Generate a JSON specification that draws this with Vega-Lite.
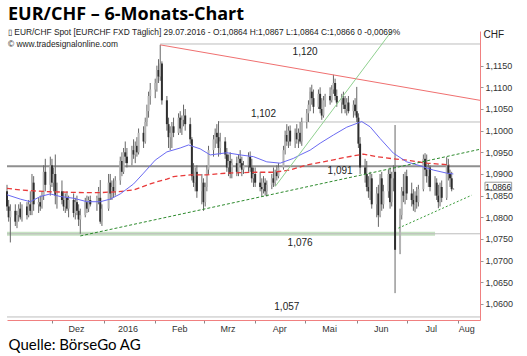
{
  "$schema": "https://vega.github.io/schema/vega-lite/v6.json",
  "width": 473,
  "height": 289,
  "autosize": {"type": "none"},
  "padding": {"left": 7, "top": 31, "right": 47, "bottom": 36},
  "background": "white",
  "config": {"view": {"stroke": null}},
  "title": {
    "text": "EUR/CHF – 6-Monats-Chart",
    "subtitle": ["▯ EUR/CHF Spot [EURCHF FXD  Täglich] 29.07.2016 - O:1,0864 H:1,0867 L:1,0864 C:1,0866 0 -0,0069%", "© www.tradesignalonline.com"],
    "anchor": "start",
    "frame": "group",
    "offset": -19,
    "font": "Open Sans",
    "fontSize": 18,
    "fontWeight": "bold",
    "color": "#000000",
    "subtitleFont": "Liberation Sans",
    "subtitleFontSize": 8.4,
    "subtitleColor": "#222222",
    "subtitleLineHeight": 12,
    "subtitlePadding": 4,
    "dx": 1
  },
  "datasets": {
    "levels": [
      {"d": "2016-02-04", "d2": "2016-08-14", "v": 1.1200},
      {"d": "2016-03-10", "d2": "2016-08-14", "v": 1.1020},
      {"d": "2015-11-04", "d2": "2016-08-14", "v": 1.0762},
      {"d": "2015-11-04", "d2": "2016-08-14", "v": 1.0570}
    ],
    "band": [{"d": "2015-11-04", "d2": "2016-07-18", "v": 1.0762}],
    "main": [{"d": "2015-11-04", "d2": "2016-08-14", "v": 1.0918}],
    "labels": [
      {"d": "2016-05-01", "v": 1.1182, "t": "1,120"},
      {"d": "2016-04-06", "v": 1.1039, "t": "1,102"},
      {"d": "2016-05-22", "v": 1.0907, "t": "1,091"},
      {"d": "2016-04-28", "v": 1.0741, "t": "1,076"},
      {"d": "2016-04-20", "v": 1.0594, "t": "1,057"}
    ],
    "trends": [
      {"g": "r", "d": "2016-02-04", "v": 1.1198},
      {"g": "r", "d": "2016-08-14", "v": 1.1070},
      {"g": "dg", "d": "2015-12-18", "v": 1.0757},
      {"g": "dg", "d": "2016-08-14", "v": 1.0957},
      {"g": "lg", "d": "2016-04-13", "v": 1.0871},
      {"g": "lg", "d": "2016-06-22", "v": 1.1230},
      {"g": "sg", "d": "2016-06-26", "v": 1.0775},
      {"g": "sg", "d": "2016-08-09", "v": 1.0851}
    ],
    "ma50": [
      {"d": "2015-11-04", "v": 1.0852}, {"d": "2015-11-12", "v": 1.0842}, {"d": "2015-11-18", "v": 1.0836},
      {"d": "2015-11-24", "v": 1.0848}, {"d": "2015-11-30", "v": 1.0854}, {"d": "2015-12-06", "v": 1.0848},
      {"d": "2015-12-14", "v": 1.0844}, {"d": "2015-12-22", "v": 1.0836}, {"d": "2015-12-30", "v": 1.0836},
      {"d": "2016-01-05", "v": 1.0842}, {"d": "2016-01-11", "v": 1.0854}, {"d": "2016-01-19", "v": 1.0877},
      {"d": "2016-01-25", "v": 1.0902}, {"d": "2016-02-01", "v": 1.0932}, {"d": "2016-02-08", "v": 1.0951},
      {"d": "2016-02-16", "v": 1.0960}, {"d": "2016-02-21", "v": 1.0967}, {"d": "2016-02-28", "v": 1.0958},
      {"d": "2016-03-05", "v": 1.0944}, {"d": "2016-03-15", "v": 1.0949}, {"d": "2016-03-23", "v": 1.0944},
      {"d": "2016-03-31", "v": 1.0940}, {"d": "2016-04-08", "v": 1.0928}, {"d": "2016-04-16", "v": 1.0925},
      {"d": "2016-04-24", "v": 1.0936}, {"d": "2016-04-28", "v": 1.0944}, {"d": "2016-05-04", "v": 1.0955},
      {"d": "2016-05-10", "v": 1.0971}, {"d": "2016-05-18", "v": 1.0990}, {"d": "2016-05-26", "v": 1.1008},
      {"d": "2016-06-04", "v": 1.1021}, {"d": "2016-06-09", "v": 1.1009}, {"d": "2016-06-15", "v": 1.0982},
      {"d": "2016-06-23", "v": 1.0948}, {"d": "2016-07-01", "v": 1.0928}, {"d": "2016-07-09", "v": 1.0919},
      {"d": "2016-07-17", "v": 1.0909}, {"d": "2016-07-25", "v": 1.0902}, {"d": "2016-07-29", "v": 1.0900}
    ],
    "ma200": [
      {"d": "2015-11-04", "v": 1.0867}, {"d": "2015-11-12", "v": 1.0863}, {"d": "2015-11-20", "v": 1.0861},
      {"d": "2015-11-30", "v": 1.0859}, {"d": "2015-12-10", "v": 1.0858}, {"d": "2015-12-20", "v": 1.0857},
      {"d": "2015-12-30", "v": 1.0857}, {"d": "2016-01-09", "v": 1.0859}, {"d": "2016-01-19", "v": 1.0863},
      {"d": "2016-01-29", "v": 1.0877}, {"d": "2016-02-02", "v": 1.0882}, {"d": "2016-02-08", "v": 1.0888},
      {"d": "2016-02-12", "v": 1.0894}, {"d": "2016-02-22", "v": 1.0898}, {"d": "2016-03-03", "v": 1.0898},
      {"d": "2016-03-15", "v": 1.0902}, {"d": "2016-03-23", "v": 1.0903}, {"d": "2016-04-02", "v": 1.0904},
      {"d": "2016-04-12", "v": 1.0904}, {"d": "2016-04-22", "v": 1.0909}, {"d": "2016-05-02", "v": 1.0921},
      {"d": "2016-05-12", "v": 1.0928}, {"d": "2016-05-22", "v": 1.0936}, {"d": "2016-06-05", "v": 1.0946},
      {"d": "2016-06-13", "v": 1.0940}, {"d": "2016-06-23", "v": 1.0935}, {"d": "2016-07-03", "v": 1.0931},
      {"d": "2016-07-13", "v": 1.0925}, {"d": "2016-07-27", "v": 1.0921}
    ],
    "last": [{"d": "2016-08-17", "d2": "2016-09-02", "v": 1.0862, "v2": 1.0881, "m": "2016-08-25", "p": 1.0871, "t": "1,0866"}],
    "candles": [
      {"d": "2015-11-04", "o": 1.0860, "h": 1.0875, "l": 1.0815, "c": 1.0825},
      {"d": "2015-11-05", "o": 1.0825, "h": 1.0840, "l": 1.0790, "c": 1.0800},
      {"d": "2015-11-06", "o": 1.0800, "h": 1.0830, "l": 1.0742, "c": 1.0815},
      {"d": "2015-11-09", "o": 1.0815, "h": 1.0830, "l": 1.0780, "c": 1.0790},
      {"d": "2015-11-10", "o": 1.0790, "h": 1.0815, "l": 1.0775, "c": 1.0805},
      {"d": "2015-11-11", "o": 1.0805, "h": 1.0830, "l": 1.0790, "c": 1.0820},
      {"d": "2015-11-12", "o": 1.0820, "h": 1.0835, "l": 1.0795, "c": 1.0800},
      {"d": "2015-11-13", "o": 1.0800, "h": 1.0830, "l": 1.0790, "c": 1.0825},
      {"d": "2015-11-16", "o": 1.0825, "h": 1.0835, "l": 1.0795, "c": 1.0805},
      {"d": "2015-11-17", "o": 1.0805, "h": 1.0840, "l": 1.0800, "c": 1.0830},
      {"d": "2015-11-18", "o": 1.0830, "h": 1.0860, "l": 1.0805, "c": 1.0815},
      {"d": "2015-11-19", "o": 1.0815, "h": 1.0900, "l": 1.0805, "c": 1.0880},
      {"d": "2015-11-20", "o": 1.0880, "h": 1.0895, "l": 1.0815, "c": 1.0830},
      {"d": "2015-11-23", "o": 1.0830, "h": 1.0845, "l": 1.0810, "c": 1.0835},
      {"d": "2015-11-24", "o": 1.0835, "h": 1.0850, "l": 1.0815, "c": 1.0825},
      {"d": "2015-11-25", "o": 1.0825, "h": 1.0860, "l": 1.0820, "c": 1.0850},
      {"d": "2015-11-26", "o": 1.0850, "h": 1.0920, "l": 1.0840, "c": 1.0905},
      {"d": "2015-11-27", "o": 1.0905, "h": 1.0935, "l": 1.0860, "c": 1.0875},
      {"d": "2015-11-30", "o": 1.0875, "h": 1.0940, "l": 1.0850, "c": 1.0920},
      {"d": "2015-12-01", "o": 1.0920, "h": 1.0935, "l": 1.0870, "c": 1.0880},
      {"d": "2015-12-02", "o": 1.0880, "h": 1.0915, "l": 1.0860, "c": 1.0900},
      {"d": "2015-12-03", "o": 1.0900, "h": 1.0945, "l": 1.0830, "c": 1.0850},
      {"d": "2015-12-04", "o": 1.0850, "h": 1.0880, "l": 1.0820, "c": 1.0860},
      {"d": "2015-12-07", "o": 1.0860, "h": 1.0885, "l": 1.0830, "c": 1.0840},
      {"d": "2015-12-08", "o": 1.0840, "h": 1.0860, "l": 1.0815, "c": 1.0825},
      {"d": "2015-12-09", "o": 1.0825, "h": 1.0855, "l": 1.0810, "c": 1.0845},
      {"d": "2015-12-10", "o": 1.0845, "h": 1.0860, "l": 1.0815, "c": 1.0820},
      {"d": "2015-12-11", "o": 1.0820, "h": 1.0850, "l": 1.0800, "c": 1.0840},
      {"d": "2015-12-14", "o": 1.0840, "h": 1.0855, "l": 1.0800, "c": 1.0810},
      {"d": "2015-12-15", "o": 1.0810, "h": 1.0845, "l": 1.0795, "c": 1.0835},
      {"d": "2015-12-16", "o": 1.0835, "h": 1.0850, "l": 1.0805, "c": 1.0815},
      {"d": "2015-12-17", "o": 1.0815, "h": 1.0830, "l": 1.0780, "c": 1.0795},
      {"d": "2015-12-18", "o": 1.0795, "h": 1.0820, "l": 1.0762, "c": 1.0805},
      {"d": "2015-12-21", "o": 1.0805, "h": 1.0845, "l": 1.0800, "c": 1.0835},
      {"d": "2015-12-22", "o": 1.0835, "h": 1.0850, "l": 1.0810, "c": 1.0820},
      {"d": "2015-12-23", "o": 1.0820, "h": 1.0848, "l": 1.0812, "c": 1.0840},
      {"d": "2015-12-24", "o": 1.0840, "h": 1.0850, "l": 1.0825, "c": 1.0830},
      {"d": "2015-12-28", "o": 1.0830, "h": 1.0850, "l": 1.0815, "c": 1.0845},
      {"d": "2015-12-29", "o": 1.0845, "h": 1.0870, "l": 1.0830, "c": 1.0860},
      {"d": "2015-12-30", "o": 1.0845, "h": 1.0886, "l": 1.0785, "c": 1.0790},
      {"d": "2015-12-31", "o": 1.0790, "h": 1.0830, "l": 1.0780, "c": 1.0820},
      {"d": "2016-01-04", "o": 1.0820, "h": 1.0900, "l": 1.0815, "c": 1.0880},
      {"d": "2016-01-05", "o": 1.0880, "h": 1.0900, "l": 1.0840, "c": 1.0855},
      {"d": "2016-01-06", "o": 1.0855, "h": 1.0885, "l": 1.0840, "c": 1.0870},
      {"d": "2016-01-07", "o": 1.0870, "h": 1.0890, "l": 1.0845, "c": 1.0860},
      {"d": "2016-01-08", "o": 1.0860, "h": 1.0895, "l": 1.0850, "c": 1.0885},
      {"d": "2016-01-11", "o": 1.0885, "h": 1.0940, "l": 1.0875, "c": 1.0930},
      {"d": "2016-01-12", "o": 1.0930, "h": 1.0950, "l": 1.0895, "c": 1.0905},
      {"d": "2016-01-13", "o": 1.0905, "h": 1.0960, "l": 1.0900, "c": 1.0950},
      {"d": "2016-01-14", "o": 1.0950, "h": 1.0975, "l": 1.0925, "c": 1.0940},
      {"d": "2016-01-15", "o": 1.0940, "h": 1.0960, "l": 1.0915, "c": 1.0925},
      {"d": "2016-01-18", "o": 1.0925, "h": 1.0965, "l": 1.0920, "c": 1.0955},
      {"d": "2016-01-19", "o": 1.0955, "h": 1.0980, "l": 1.0935, "c": 1.0945},
      {"d": "2016-01-20", "o": 1.0945, "h": 1.0975, "l": 1.0925, "c": 1.0965},
      {"d": "2016-01-21", "o": 1.0965, "h": 1.0985, "l": 1.0940, "c": 1.0950},
      {"d": "2016-01-22", "o": 1.0950, "h": 1.1005, "l": 1.0945, "c": 1.0995},
      {"d": "2016-01-25", "o": 1.0995, "h": 1.1010, "l": 1.0960, "c": 1.0975},
      {"d": "2016-01-26", "o": 1.0975, "h": 1.1030, "l": 1.0970, "c": 1.1020},
      {"d": "2016-01-27", "o": 1.1020, "h": 1.1060, "l": 1.1010, "c": 1.1045},
      {"d": "2016-01-28", "o": 1.1045, "h": 1.1090, "l": 1.1030, "c": 1.1080},
      {"d": "2016-01-29", "o": 1.1080, "h": 1.1110, "l": 1.1060, "c": 1.1095},
      {"d": "2016-02-01", "o": 1.1095, "h": 1.1120, "l": 1.1075, "c": 1.1110},
      {"d": "2016-02-02", "o": 1.1110, "h": 1.1150, "l": 1.1090, "c": 1.1140},
      {"d": "2016-02-03", "o": 1.1140, "h": 1.1165, "l": 1.1110, "c": 1.1125},
      {"d": "2016-02-04", "o": 1.1125, "h": 1.1198, "l": 1.1115, "c": 1.1155},
      {"d": "2016-02-05", "o": 1.1155, "h": 1.1160, "l": 1.1060, "c": 1.1070},
      {"d": "2016-02-08", "o": 1.1070, "h": 1.1080, "l": 1.1000, "c": 1.1015},
      {"d": "2016-02-09", "o": 1.1015, "h": 1.1030, "l": 1.0960, "c": 1.0985},
      {"d": "2016-02-10", "o": 1.0985, "h": 1.1010, "l": 1.0955, "c": 1.0995},
      {"d": "2016-02-11", "o": 1.0995, "h": 1.1020, "l": 1.0960, "c": 1.1010},
      {"d": "2016-02-12", "o": 1.1010, "h": 1.1030, "l": 1.0985, "c": 1.0995},
      {"d": "2016-02-15", "o": 1.0995, "h": 1.1040, "l": 1.0990, "c": 1.1030},
      {"d": "2016-02-16", "o": 1.1030, "h": 1.1045, "l": 1.0995, "c": 1.1005},
      {"d": "2016-02-17", "o": 1.1005, "h": 1.1035, "l": 1.0990, "c": 1.1025},
      {"d": "2016-02-18", "o": 1.1025, "h": 1.1060, "l": 1.1010, "c": 1.1035},
      {"d": "2016-02-19", "o": 1.1035, "h": 1.1050, "l": 1.1000, "c": 1.1015},
      {"d": "2016-02-22", "o": 1.1015, "h": 1.1030, "l": 1.0970, "c": 1.0980},
      {"d": "2016-02-23", "o": 1.0980, "h": 1.0985, "l": 1.0885, "c": 1.0895},
      {"d": "2016-02-24", "o": 1.0895, "h": 1.0925, "l": 1.0870, "c": 1.0880},
      {"d": "2016-02-25", "o": 1.0880, "h": 1.0915, "l": 1.0860, "c": 1.0905},
      {"d": "2016-02-26", "o": 1.0905, "h": 1.0920, "l": 1.0845, "c": 1.0860},
      {"d": "2016-02-29", "o": 1.0860, "h": 1.0900, "l": 1.0830, "c": 1.0880},
      {"d": "2016-03-01", "o": 1.0880, "h": 1.0890, "l": 1.0815, "c": 1.0835},
      {"d": "2016-03-02", "o": 1.0835, "h": 1.0880, "l": 1.0825, "c": 1.0870},
      {"d": "2016-03-03", "o": 1.0870, "h": 1.0920, "l": 1.0860, "c": 1.0910},
      {"d": "2016-03-04", "o": 1.0910, "h": 1.0965, "l": 1.0900, "c": 1.0955},
      {"d": "2016-03-07", "o": 1.0955, "h": 1.0990, "l": 1.0940, "c": 1.0980},
      {"d": "2016-03-08", "o": 1.0980, "h": 1.1005, "l": 1.0960, "c": 1.0995},
      {"d": "2016-03-09", "o": 1.0995, "h": 1.1015, "l": 1.0970, "c": 1.0985},
      {"d": "2016-03-10", "o": 1.0985, "h": 1.1022, "l": 1.0940, "c": 1.0960},
      {"d": "2016-03-11", "o": 1.0960, "h": 1.0995, "l": 1.0945, "c": 1.0975},
      {"d": "2016-03-14", "o": 1.0975, "h": 1.0985, "l": 1.0935, "c": 1.0945},
      {"d": "2016-03-15", "o": 1.0945, "h": 1.0960, "l": 1.0905, "c": 1.0915},
      {"d": "2016-03-16", "o": 1.0915, "h": 1.0945, "l": 1.0895, "c": 1.0930},
      {"d": "2016-03-17", "o": 1.0930, "h": 1.0950, "l": 1.0890, "c": 1.0900},
      {"d": "2016-03-18", "o": 1.0900, "h": 1.0935, "l": 1.0890, "c": 1.0925},
      {"d": "2016-03-21", "o": 1.0925, "h": 1.0940, "l": 1.0895, "c": 1.0905},
      {"d": "2016-03-22", "o": 1.0905, "h": 1.0945, "l": 1.0895, "c": 1.0935},
      {"d": "2016-03-23", "o": 1.0935, "h": 1.0955, "l": 1.0915, "c": 1.0925},
      {"d": "2016-03-24", "o": 1.0925, "h": 1.0940, "l": 1.0895, "c": 1.0910},
      {"d": "2016-03-25", "o": 1.0910, "h": 1.0930, "l": 1.0900, "c": 1.0920},
      {"d": "2016-03-28", "o": 1.0920, "h": 1.0950, "l": 1.0905, "c": 1.0940},
      {"d": "2016-03-29", "o": 1.0940, "h": 1.0952, "l": 1.0905, "c": 1.0915},
      {"d": "2016-03-30", "o": 1.0915, "h": 1.0935, "l": 1.0880, "c": 1.0890},
      {"d": "2016-03-31", "o": 1.0890, "h": 1.0915, "l": 1.0870, "c": 1.0900},
      {"d": "2016-04-01", "o": 1.0900, "h": 1.0915, "l": 1.0870, "c": 1.0880},
      {"d": "2016-04-04", "o": 1.0880, "h": 1.0905, "l": 1.0860, "c": 1.0870},
      {"d": "2016-04-05", "o": 1.0870, "h": 1.0890, "l": 1.0848, "c": 1.0865},
      {"d": "2016-04-06", "o": 1.0865, "h": 1.0895, "l": 1.0855, "c": 1.0880},
      {"d": "2016-04-07", "o": 1.0880, "h": 1.0890, "l": 1.0850, "c": 1.0860},
      {"d": "2016-04-08", "o": 1.0860, "h": 1.0885, "l": 1.0848, "c": 1.0875},
      {"d": "2016-04-11", "o": 1.0875, "h": 1.0900, "l": 1.0865, "c": 1.0890},
      {"d": "2016-04-12", "o": 1.0890, "h": 1.0915, "l": 1.0870, "c": 1.0880},
      {"d": "2016-04-13", "o": 1.0880, "h": 1.0910, "l": 1.0872, "c": 1.0905},
      {"d": "2016-04-14", "o": 1.0905, "h": 1.0920, "l": 1.0885, "c": 1.0895},
      {"d": "2016-04-15", "o": 1.0895, "h": 1.0925, "l": 1.0890, "c": 1.0915},
      {"d": "2016-04-18", "o": 1.0915, "h": 1.0965, "l": 1.0910, "c": 1.0955},
      {"d": "2016-04-19", "o": 1.0955, "h": 1.1000, "l": 1.0945, "c": 1.0990},
      {"d": "2016-04-20", "o": 1.0990, "h": 1.1015, "l": 1.0965, "c": 1.0975},
      {"d": "2016-04-21", "o": 1.0975, "h": 1.1010, "l": 1.0960, "c": 1.1000},
      {"d": "2016-04-22", "o": 1.1000, "h": 1.1012, "l": 1.0965, "c": 1.0975},
      {"d": "2016-04-25", "o": 1.0975, "h": 1.1005, "l": 1.0960, "c": 1.0995},
      {"d": "2016-04-26", "o": 1.0995, "h": 1.1015, "l": 1.0970, "c": 1.0980},
      {"d": "2016-04-27", "o": 1.0980, "h": 1.1005, "l": 1.0960, "c": 1.0995},
      {"d": "2016-04-28", "o": 1.0995, "h": 1.1020, "l": 1.0970, "c": 1.0975},
      {"d": "2016-04-29", "o": 1.0975, "h": 1.1030, "l": 1.0965, "c": 1.1020},
      {"d": "2016-05-02", "o": 1.1020, "h": 1.1050, "l": 1.1005, "c": 1.1040},
      {"d": "2016-05-03", "o": 1.1040, "h": 1.1070, "l": 1.1020, "c": 1.1060},
      {"d": "2016-05-04", "o": 1.1060, "h": 1.1100, "l": 1.1045, "c": 1.1090},
      {"d": "2016-05-05", "o": 1.1090, "h": 1.1106, "l": 1.1060, "c": 1.1075},
      {"d": "2016-05-06", "o": 1.1075, "h": 1.1095, "l": 1.1040, "c": 1.1055},
      {"d": "2016-05-09", "o": 1.1055, "h": 1.1095, "l": 1.1050, "c": 1.1085},
      {"d": "2016-05-10", "o": 1.1085, "h": 1.1100, "l": 1.1040, "c": 1.1050},
      {"d": "2016-05-11", "o": 1.1050, "h": 1.1075, "l": 1.1025, "c": 1.1035},
      {"d": "2016-05-12", "o": 1.1035, "h": 1.1080, "l": 1.1030, "c": 1.1070},
      {"d": "2016-05-13", "o": 1.1070, "h": 1.1085, "l": 1.1055, "c": 1.1080},
      {"d": "2016-05-16", "o": 1.1080, "h": 1.1100, "l": 1.1060, "c": 1.1070},
      {"d": "2016-05-17", "o": 1.1070, "h": 1.1105, "l": 1.1065, "c": 1.1095},
      {"d": "2016-05-18", "o": 1.1095, "h": 1.1129, "l": 1.1085, "c": 1.1110},
      {"d": "2016-05-19", "o": 1.1110, "h": 1.1120, "l": 1.1070, "c": 1.1080},
      {"d": "2016-05-20", "o": 1.1080, "h": 1.1095, "l": 1.1055, "c": 1.1065},
      {"d": "2016-05-23", "o": 1.1065, "h": 1.1085, "l": 1.1040, "c": 1.1075},
      {"d": "2016-05-24", "o": 1.1075, "h": 1.1090, "l": 1.1050, "c": 1.1060},
      {"d": "2016-05-25", "o": 1.1060, "h": 1.1080, "l": 1.1040, "c": 1.1050},
      {"d": "2016-05-26", "o": 1.1050, "h": 1.1075, "l": 1.1035, "c": 1.1065},
      {"d": "2016-05-27", "o": 1.1065, "h": 1.1080, "l": 1.1040, "c": 1.1045},
      {"d": "2016-05-30", "o": 1.1045, "h": 1.1070, "l": 1.1030, "c": 1.1060},
      {"d": "2016-05-31", "o": 1.1060, "h": 1.1075, "l": 1.1035, "c": 1.1045},
      {"d": "2016-06-01", "o": 1.1045, "h": 1.1101, "l": 1.1020, "c": 1.1030},
      {"d": "2016-06-02", "o": 1.1030, "h": 1.1040, "l": 1.0960, "c": 1.0970},
      {"d": "2016-06-03", "o": 1.0970, "h": 1.0985, "l": 1.0900, "c": 1.0915},
      {"d": "2016-06-06", "o": 1.0915, "h": 1.0935, "l": 1.0880, "c": 1.0900},
      {"d": "2016-06-07", "o": 1.0900, "h": 1.0930, "l": 1.0860, "c": 1.0870},
      {"d": "2016-06-08", "o": 1.0870, "h": 1.0895, "l": 1.0845, "c": 1.0860},
      {"d": "2016-06-09", "o": 1.0860, "h": 1.0905, "l": 1.0840, "c": 1.0890},
      {"d": "2016-06-10", "o": 1.0890, "h": 1.0900, "l": 1.0820, "c": 1.0830},
      {"d": "2016-06-13", "o": 1.0830, "h": 1.0870, "l": 1.0800, "c": 1.0855},
      {"d": "2016-06-14", "o": 1.0855, "h": 1.0875, "l": 1.0778, "c": 1.0805},
      {"d": "2016-06-15", "o": 1.0805, "h": 1.0900, "l": 1.0800, "c": 1.0890},
      {"d": "2016-06-16", "o": 1.0890, "h": 1.0905, "l": 1.0815, "c": 1.0830},
      {"d": "2016-06-17", "o": 1.0830, "h": 1.0875, "l": 1.0820, "c": 1.0860},
      {"d": "2016-06-20", "o": 1.0860, "h": 1.0910, "l": 1.0845, "c": 1.0900},
      {"d": "2016-06-21", "o": 1.0900, "h": 1.0915, "l": 1.0820, "c": 1.0835},
      {"d": "2016-06-22", "o": 1.0835, "h": 1.0905, "l": 1.0825, "c": 1.0890},
      {"d": "2016-06-23", "o": 1.0890, "h": 1.0920, "l": 1.0860, "c": 1.0905},
      {"d": "2016-06-24", "o": 1.0905, "h": 1.1013, "l": 1.0625, "c": 1.0725},
      {"d": "2016-06-27", "o": 1.0725, "h": 1.0820, "l": 1.0715, "c": 1.0805},
      {"d": "2016-06-28", "o": 1.0805, "h": 1.0870, "l": 1.0795, "c": 1.0860},
      {"d": "2016-06-29", "o": 1.0860, "h": 1.0900, "l": 1.0835, "c": 1.0850},
      {"d": "2016-06-30", "o": 1.0850, "h": 1.0905, "l": 1.0830, "c": 1.0895},
      {"d": "2016-07-01", "o": 1.0895, "h": 1.0910, "l": 1.0840, "c": 1.0855},
      {"d": "2016-07-04", "o": 1.0855, "h": 1.0880, "l": 1.0825, "c": 1.0840},
      {"d": "2016-07-05", "o": 1.0840, "h": 1.0865, "l": 1.0815, "c": 1.0830},
      {"d": "2016-07-06", "o": 1.0830, "h": 1.0860, "l": 1.0812, "c": 1.0850},
      {"d": "2016-07-07", "o": 1.0850, "h": 1.0870, "l": 1.0820, "c": 1.0835},
      {"d": "2016-07-08", "o": 1.0835, "h": 1.0875, "l": 1.0825, "c": 1.0865},
      {"d": "2016-07-11", "o": 1.0865, "h": 1.0945, "l": 1.0860, "c": 1.0935},
      {"d": "2016-07-12", "o": 1.0935, "h": 1.0948, "l": 1.0895, "c": 1.0910},
      {"d": "2016-07-13", "o": 1.0910, "h": 1.0945, "l": 1.0880, "c": 1.0895},
      {"d": "2016-07-14", "o": 1.0895, "h": 1.0925, "l": 1.0870, "c": 1.0915},
      {"d": "2016-07-15", "o": 1.0915, "h": 1.0920, "l": 1.0860, "c": 1.0870},
      {"d": "2016-07-18", "o": 1.0870, "h": 1.0895, "l": 1.0850, "c": 1.0880},
      {"d": "2016-07-19", "o": 1.0880, "h": 1.0890, "l": 1.0840, "c": 1.0850},
      {"d": "2016-07-20", "o": 1.0850, "h": 1.0875, "l": 1.0821, "c": 1.0835},
      {"d": "2016-07-21", "o": 1.0835, "h": 1.0880, "l": 1.0825, "c": 1.0870},
      {"d": "2016-07-22", "o": 1.0870, "h": 1.0885, "l": 1.0835, "c": 1.0845},
      {"d": "2016-07-25", "o": 1.0845, "h": 1.0939, "l": 1.0840, "c": 1.0920},
      {"d": "2016-07-26", "o": 1.0920, "h": 1.0935, "l": 1.0885, "c": 1.0900},
      {"d": "2016-07-27", "o": 1.0900, "h": 1.0910, "l": 1.0870, "c": 1.0890},
      {"d": "2016-07-28", "o": 1.0890, "h": 1.0905, "l": 1.0860, "c": 1.0865},
      {"d": "2016-07-29", "o": 1.0864, "h": 1.0867, "l": 1.0864, "c": 1.0866}
    ]
  },
  "layer": [
    {
      "data": {"name": "band"},
      "mark": {"type": "rule", "color": "#c6e2c2", "strokeWidth": 4},
      "encoding": {
        "x": {
          "field": "d", "type": "temporal",
          "scale": {"type": "utc", "domain": [{"year": 2015, "month": 11, "date": 4, "utc": true}, {"year": 2016, "month": 8, "date": 14, "utc": true}]},
          "axis": {
            "values": [
              {"year": 2015, "month": 12, "date": 1, "utc": true},
              {"year": 2016, "month": 1, "date": 1, "utc": true},
              {"year": 2016, "month": 2, "date": 1, "utc": true},
              {"year": 2016, "month": 3, "date": 1, "utc": true},
              {"year": 2016, "month": 4, "date": 1, "utc": true},
              {"year": 2016, "month": 5, "date": 1, "utc": true},
              {"year": 2016, "month": 6, "date": 1, "utc": true},
              {"year": 2016, "month": 7, "date": 1, "utc": true},
              {"year": 2016, "month": 8, "date": 1, "utc": true}
            ],
            "tickCount": 20,
            "labelExpr": "utcmonth(datum.value) == 0 ? '2016' : ['Jan','Feb','Mrz','Apr','Mai','Jun','Jul','Aug','Sep','Okt','Nov','Dez'][utcmonth(datum.value)]",
            "labelOffset": {"condition": {"test": "utcmonth(datum.value) == 7", "value": 8}, "value": 24},
            "labelFlush": false,
            "labelOverlap": false,
            "labelFont": "Liberation Sans",
            "labelFontSize": 9,
            "labelColor": "#333333",
            "labelPadding": 1,
            "tickSize": 3,
            "tickColor": "#888888",
            "domainColor": "#f08080",
            "grid": false,
            "title": "Quelle: BörseGo AG",
            "titleFont": "Lato",
            "titleFontSize": 15,
            "titleFontWeight": "normal",
            "titleColor": "#000000",
            "titleAnchor": "start",
            "titleAlign": "left",
            "titleBaseline": "alphabetic",
            "titleX": 1,
            "titleY": 29
          }
        },
        "x2": {"field": "d2"},
        "y": {
          "field": "v", "type": "quantitative",
          "scale": {"domain": [1.0563, 1.1230], "nice": false, "zero": false},
          "axis": {
            "orient": "right",
            "values": [1.06, 1.065, 1.07, 1.075, 1.08, 1.085, 1.09, 1.095, 1.1, 1.105, 1.11, 1.115],
            "tickCount": 30,
            "labelExpr": "replace(format(datum.value, '.4f'), '.', ',')",
            "labelOverlap": false,
            "labelFont": "Liberation Sans",
            "labelFontSize": 9,
            "labelColor": "#333333",
            "labelPadding": 2,
            "tickSize": 3,
            "tickColor": "#999999",
            "domainColor": "#f08080",
            "grid": false,
            "title": "CHF",
            "titleAngle": 0,
            "titleAlign": "left",
            "titleBaseline": "middle",
            "titleX": 3,
            "titleY": 3,
            "titleFont": "Liberation Sans",
            "titleFontSize": 10,
            "titleFontWeight": "normal",
            "titleColor": "#222222"
          }
        }
      }
    },
    {
      "data": {"name": "levels"},
      "mark": {"type": "rule", "color": "#bdbdbd", "strokeWidth": 1},
      "encoding": {
        "x": {"field": "d", "type": "temporal"},
        "x2": {"field": "d2"},
        "y": {"field": "v", "type": "quantitative"}
      }
    },
    {
      "data": {"name": "main"},
      "mark": {"type": "rule", "color": "#8f8f8f", "strokeWidth": 2},
      "encoding": {
        "x": {"field": "d", "type": "temporal"},
        "x2": {"field": "d2"},
        "y": {"field": "v", "type": "quantitative"}
      }
    },
    {
      "data": {"name": "candles"},
      "mark": {"type": "rule", "color": "#666666", "strokeWidth": 1},
      "encoding": {
        "x": {"field": "d", "type": "temporal"},
        "y": {"field": "l", "type": "quantitative"},
        "y2": {"field": "h"}
      }
    },
    {
      "data": {"name": "candles"},
      "mark": {"type": "rule", "strokeWidth": 2, "strokeCap": "butt"},
      "encoding": {
        "x": {"field": "d", "type": "temporal"},
        "y": {"field": "o", "type": "quantitative"},
        "y2": {"field": "c"},
        "color": {"condition": {"test": "datum.c >= datum.o", "value": "#b4b4b4"}, "value": "#2e2e2e"}
      }
    },
    {
      "data": {"name": "ma200"},
      "mark": {"type": "line", "color": "#e83a3a", "strokeWidth": 1.3, "strokeDash": [5, 3], "clip": true},
      "encoding": {
        "x": {"field": "d", "type": "temporal"},
        "y": {"field": "v", "type": "quantitative"}
      }
    },
    {
      "data": {"name": "ma50"},
      "mark": {"type": "line", "color": "#6a6af2", "strokeWidth": 1, "clip": true},
      "encoding": {
        "x": {"field": "d", "type": "temporal"},
        "y": {"field": "v", "type": "quantitative"}
      }
    },
    {
      "data": {"name": "trends"},
      "transform": [{"filter": "datum.g == 'r'"}],
      "mark": {"type": "line", "color": "#f07070", "strokeWidth": 1, "clip": true},
      "encoding": {
        "x": {"field": "d", "type": "temporal"},
        "y": {"field": "v", "type": "quantitative"}
      }
    },
    {
      "data": {"name": "trends"},
      "transform": [{"filter": "datum.g == 'dg'"}],
      "mark": {"type": "line", "color": "#2e8b2e", "strokeWidth": 1, "strokeDash": [3, 2], "clip": true},
      "encoding": {
        "x": {"field": "d", "type": "temporal"},
        "y": {"field": "v", "type": "quantitative"}
      }
    },
    {
      "data": {"name": "trends"},
      "transform": [{"filter": "datum.g == 'lg'"}],
      "mark": {"type": "line", "color": "#8fd08f", "strokeWidth": 1, "clip": true},
      "encoding": {
        "x": {"field": "d", "type": "temporal"},
        "y": {"field": "v", "type": "quantitative"}
      }
    },
    {
      "data": {"name": "trends"},
      "transform": [{"filter": "datum.g == 'sg'"}],
      "mark": {"type": "line", "color": "#3a9c3a", "strokeWidth": 1, "strokeDash": [2, 2], "clip": true},
      "encoding": {
        "x": {"field": "d", "type": "temporal"},
        "y": {"field": "v", "type": "quantitative"}
      }
    },
    {
      "data": {"name": "labels"},
      "mark": {"type": "text", "font": "Liberation Sans", "fontSize": 10, "color": "#222222", "align": "center", "baseline": "middle"},
      "encoding": {
        "x": {"field": "d", "type": "temporal"},
        "y": {"field": "v", "type": "quantitative"},
        "text": {"field": "t"}
      }
    },
    {
      "data": {"name": "last"},
      "mark": {"type": "rect", "fill": "#ffffff", "stroke": "#9a9a9a", "strokeWidth": 1},
      "encoding": {
        "x": {"field": "d", "type": "temporal"},
        "x2": {"field": "d2"},
        "y": {"field": "v", "type": "quantitative"},
        "y2": {"field": "v2"}
      }
    },
    {
      "data": {"name": "last"},
      "mark": {"type": "text", "font": "Liberation Sans", "fontSize": 8.5, "color": "#222222", "align": "center", "baseline": "middle"},
      "encoding": {
        "x": {"field": "m", "type": "temporal"},
        "y": {"field": "p", "type": "quantitative"},
        "text": {"field": "t"}
      }
    }
  ]
}
